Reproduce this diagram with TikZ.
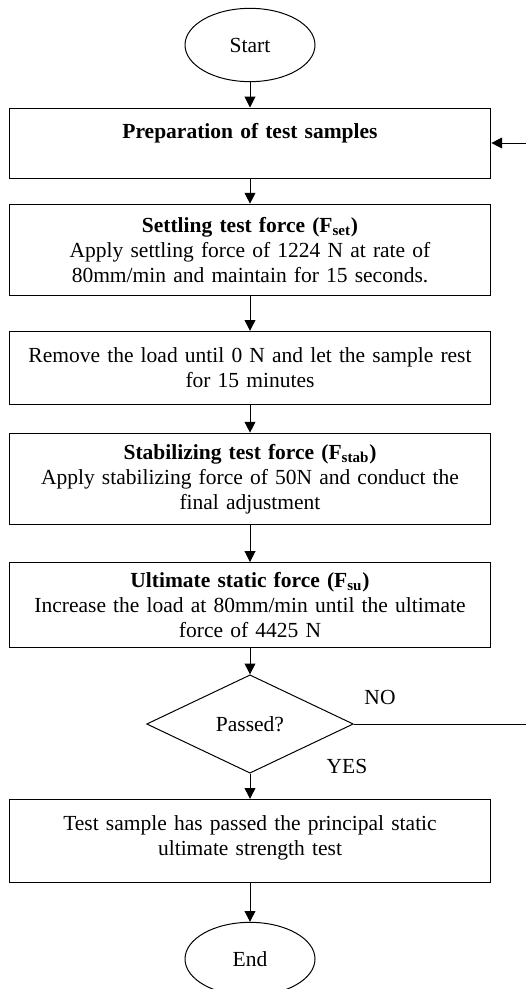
\documentclass[tikz,border=0pt]{standalone}
\usepackage{fontspec}
\setmainfont{Liberation Serif}
\usetikzlibrary{shapes.geometric,arrows.meta}
\begin{document}
\begin{tikzpicture}[x=0.6pt,y=-0.6pt,
    every node/.style={font=\fontsize{12.9}{15}\selectfont},
    stepbox/.style={draw,rectangle,line width=0.6pt,minimum width=289pt,
      text width=285pt,align=center,inner sep=0pt},
    term/.style={draw,ellipse,line width=0.6pt,minimum width=78pt,minimum height=44pt},
    arr/.style={-{Triangle[length=6.5pt,width=6.5pt]},line width=0.6pt}]
  \useasboundingbox (0,0) rectangle (526,989);

  \node[term] (start) at (250,45) {Start};
  \node[stepbox,minimum height=42pt] (prep) at (250,143)
    {\textbf{Preparation of test samples}\\ \mbox{}};
  \node[stepbox,minimum height=55pt] (settle) at (250,250)
    {\textbf{Settling test force (F\textsubscript{set})}\\
     Apply settling force of 1224 N at rate of\\
     80mm/min and maintain for 15 seconds.};
  \node[stepbox,minimum height=44pt] (rest) at (250,368)
    {Remove the load until 0 N and let the sample rest\\ for 15 minutes};
  \node[stepbox,minimum height=55pt] (stab) at (250,479)
    {\textbf{Stabilizing test force (F\textsubscript{stab})}\\
     Apply stabilizing force of 50N and conduct the\\ final adjustment};
  \node[stepbox,minimum height=51pt] (ult) at (250,605)
    {\textbf{Ultimate static force (F\textsubscript{su})}\\
     Increase the load at 80mm/min until the ultimate\\ force of 4425 N};
  \node[draw,diamond,line width=0.6pt,minimum width=124pt,minimum height=59pt,
    inner sep=0pt] (chk) at (250,724) {Passed?};
  \node[stepbox,minimum height=50pt] (pass) at (250,841)
    {Test sample has passed the principal static\\ ultimate strength test\\[-8pt] \mbox{}};
  \node[term] (end) at (250,959) {End};

  \node (no) at (380,697) {NO};
  \node (yes) at (347,766) {YES};

  \foreach \a/\b in
    {start/prep,prep/settle,settle/rest,rest/stab,stab/ult,ult/chk,chk/pass,pass/end}
    {\draw[arr] (\a) -- (\b);}

  % back to the preparation step
  \coordinate (back) at (540,0);
  \draw[arr] (chk.east) -- (chk.east -| back) |- (prep.east);
\end{tikzpicture}
\end{document}
